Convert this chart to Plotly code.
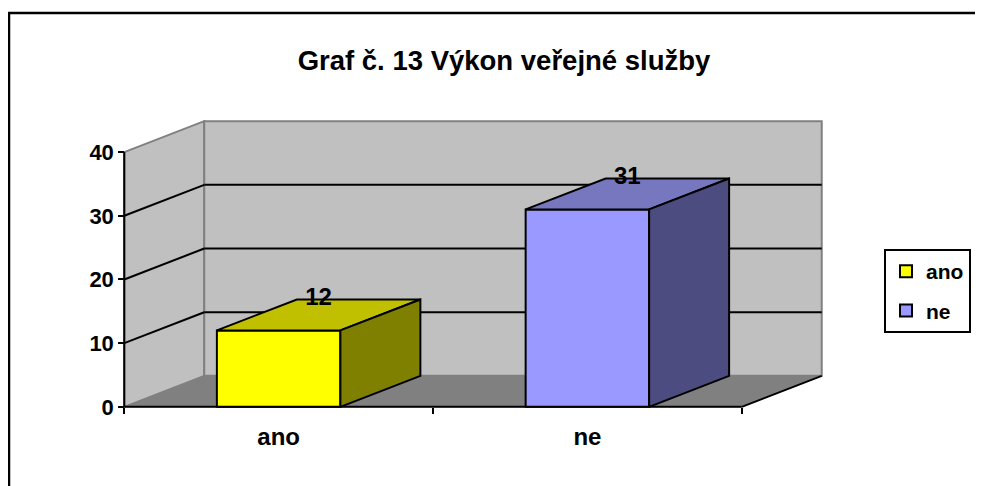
import plotly.graph_objects as go

# data
categories = ["ano", "ne"]
values = [12, 31]
y_ticks = [0, 10, 20, 30, 40]

front_colors = ["#FFFF00", "#9999FF"]
top_colors = ["#C0C000", "#7777C0"]
side_colors = ["#808000", "#4C4C80"]

FONT = "Liberation Sans, Arial, sans-serif"
# page is 983x486 but the html body has an 8px margin
OFF = 8
W, H = 983 - OFF, 486 - OFF

# fake 3d: depth offset in axis units
DX = 0.259
DY = 4.86
BAR_W = 0.4
PAD_X = 0.03
PAD_Y = 0.5

x0 = -0.5
x1 = len(categories) - 0.5
ymax = max(y_ticks)
xr = [x0 - PAD_X, x1 + DX + PAD_X]
yr = [-PAD_Y, ymax + DY + PAD_Y]

# plot area in page pixels
left, right, top, bottom = 115, 831, 118, 410
pw, ph = right - left, bottom - top

fig = go.Figure()

shapes = []


def poly(pts, fill, line, width=1):
    path = "M " + " L ".join(f"{px},{py}" for px, py in pts) + " Z"
    shapes.append(dict(type="path", path=path, xref="x", yref="y", layer="below",
                       fillcolor=fill, line=dict(color=line, width=width)))


def seg(xa, ya, xb, yb, color="black", width=2):
    shapes.append(dict(type="line", x0=xa, y0=ya, x1=xb, y1=yb, xref="x", yref="y",
                       layer="below", line=dict(color=color, width=width)))


# floor, side wall, back wall
poly([(x0, 0), (x1, 0), (x1 + DX, DY), (x0 + DX, DY)], "#808080", "#808080")
poly([(x0, 0), (x0 + DX, DY), (x0 + DX, ymax + DY), (x0, ymax)], "#C0C0C0", "#808080", 2)
poly([(x0 + DX, DY), (x1 + DX, DY), (x1 + DX, ymax + DY), (x0 + DX, ymax + DY)], "#C0C0C0", "#808080", 2)

# gridlines on walls
for v in y_ticks[1:-1]:
    seg(x0, v, x0 + DX, v + DY)
    seg(x0 + DX, v + DY, x1 + DX, v + DY)

# axis lines
seg(x0, 0, x0, ymax)
seg(x0, 0, x1, 0)
seg(x1, 0, x1 + DX, DY)

for i, (cat, val) in enumerate(zip(categories, values)):
    fig.add_trace(go.Bar(
        x=[i], y=[val], width=BAR_W, name=cat, legendgroup=cat,
        marker=dict(color=front_colors[i], line=dict(color="black", width=2)),
        hoverinfo="skip",
    ))
    bl, br = i - BAR_W / 2, i + BAR_W / 2
    fig.add_trace(go.Scatter(
        x=[bl, br, br + DX, bl + DX, bl], y=[val, val, val + DY, val + DY, val],
        fill="toself", fillcolor=top_colors[i], mode="lines",
        line=dict(color="black", width=2), showlegend=False, hoverinfo="skip",
    ))
    fig.add_trace(go.Scatter(
        x=[br, br + DX, br + DX, br, br], y=[0, DY, val + DY, val, 0],
        fill="toself", fillcolor=side_colors[i], mode="lines",
        line=dict(color="black", width=2), showlegend=False, hoverinfo="skip",
    ))
    fig.add_trace(go.Scatter(
        x=[i + DX / 2], y=[val + DY], mode="text", text=[str(val)],
        textposition="middle center",
        textfont=dict(family=FONT, size=24, color="black", weight="bold"),
        showlegend=False, hoverinfo="skip", cliponaxis=False,
    ))

# outer frame
shapes.append(dict(type="rect", xref="paper", yref="paper",
                   x0=(9 - left) / pw, y0=-0.6,
                   x1=1.6, y1=(bottom - 13) / ph,
                   line=dict(color="black", width=2.5), fillcolor="rgba(0,0,0,0)"))

fig.update_layout(
    width=W, height=H,
    margin=dict(l=left - OFF, r=W - (right - OFF), t=top - OFF, b=H - (bottom - OFF),
                pad=0, autoexpand=False),
    paper_bgcolor="white", plot_bgcolor="white",
    title=dict(text="<b>Graf č. 13 Výkon veřejné služby</b>", x=(504 - OFF) / W, xref="container",
               xanchor="center", y=1 - (60 - OFF) / H, yref="container", yanchor="middle",
               font=dict(family=FONT, size=27.5, color="black")),
    xaxis=dict(range=xr, tickvals=list(range(len(categories))), ticktext=categories,
               ticks="", showgrid=False, zeroline=False, showline=False,
               anchor="free", position=(0 - yr[0]) / (yr[1] - yr[0]),
               ticklabelstandoff=13,
               tickfont=dict(family=FONT, size=24, color="black", weight="bold"),
               minor=dict(tickvals=[x0 + k for k in range(len(categories) + 1)],
                          ticks="outside", ticklen=6, tickwidth=2, tickcolor="black",
                          showgrid=False)),
    yaxis=dict(range=yr, tickvals=y_ticks, ticks="outside", ticklen=6, tickwidth=2,
               tickcolor="black", showgrid=False, zeroline=False, showline=False,
               anchor="free", position=(x0 - xr[0]) / (xr[1] - xr[0]),
               tickfont=dict(family=FONT, size=22, color="black", weight="bold")),
    shapes=shapes,
    showlegend=True,
    legend=dict(x=(884 - left) / pw, y=(bottom - 249) / ph,
                xanchor="left", yanchor="top", bgcolor="white",
                bordercolor="black", borderwidth=2, traceorder="grouped",
                tracegroupgap=9,
                font=dict(family=FONT, size=21, color="black", weight="bold")),
    barmode="overlay",
)

fig.write_html("out.html")
